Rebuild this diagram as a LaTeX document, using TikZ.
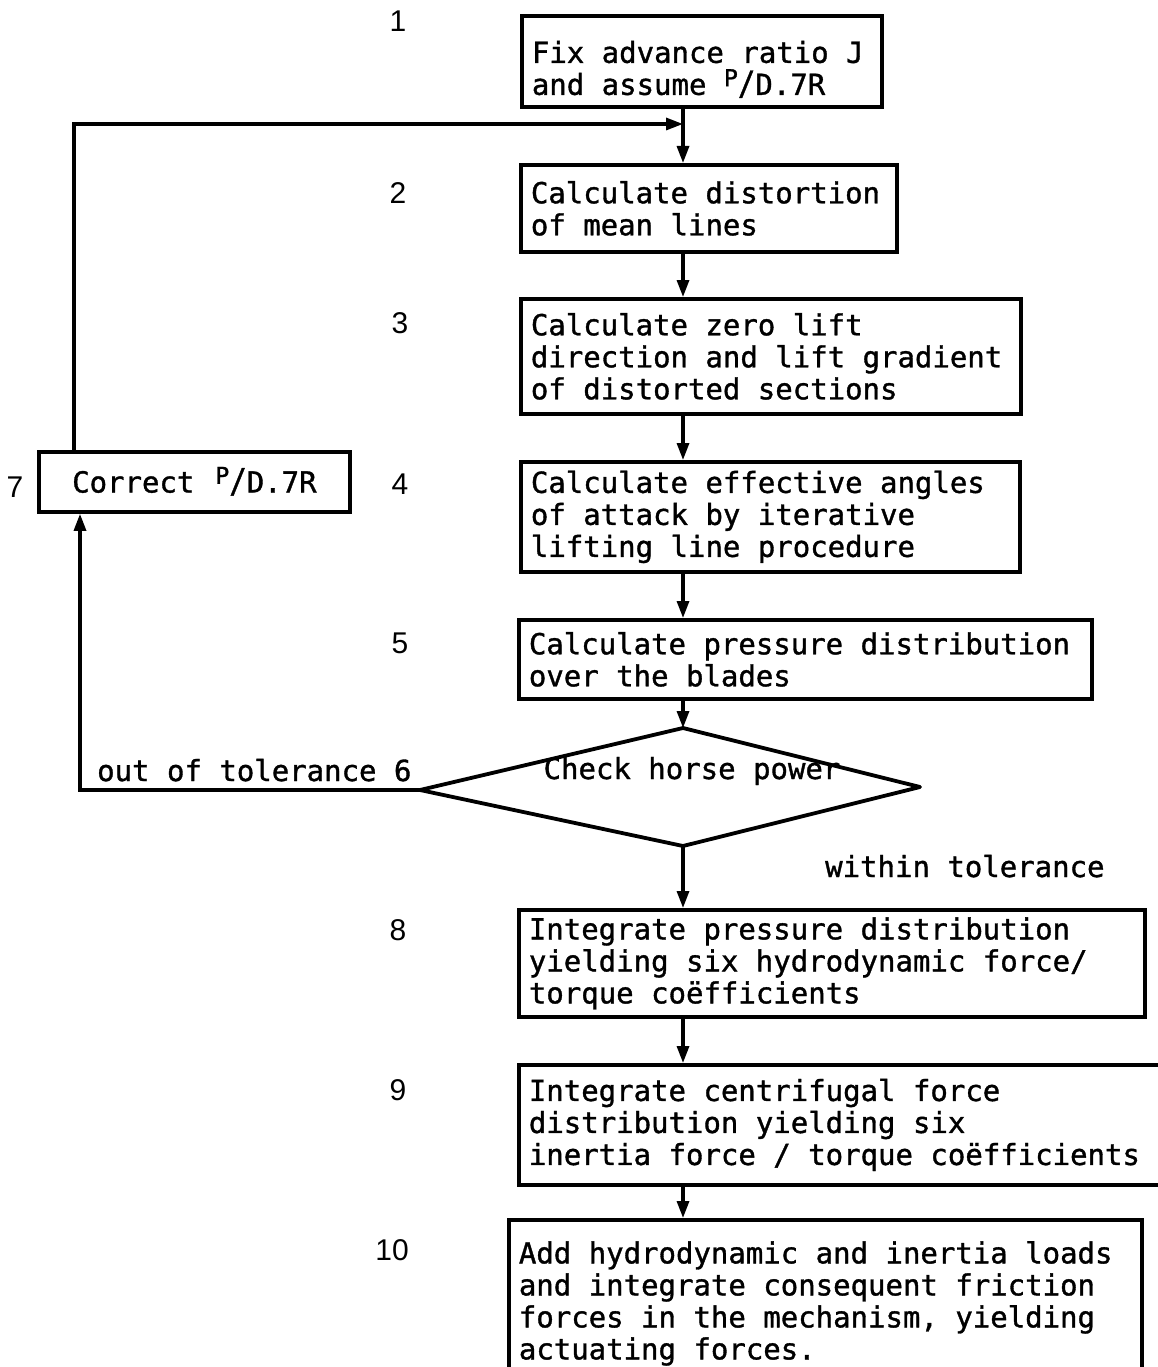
\documentclass[tikz,border=0pt]{standalone}
\usepackage{fontspec}
\setmainfont{DejaVu Sans Mono}[FakeBold=1.2]
\newfontfamily\numfont{Liberation Sans}
\usetikzlibrary{arrows.meta}
\newcommand{\pdr}{\smash{\raisebox{0.3em}{\scalebox{0.8}{P}}}\scalebox{1}[1.15]{/}D.7R}
\begin{document}
\begin{tikzpicture}[x=1pt,y=-1pt,
 box/.style={draw, line width=3.8pt, anchor=north west, align=left, inner xsep=10pt, inner ysep=0pt, font=\fontsize{29}{32}\selectfont,
   execute at begin node={\spaceskip=0pt\xspaceskip=0pt}},
 num/.style={font=\numfont\fontsize{30}{32}\selectfont, anchor=center},
 lbl/.style={font=\fontsize{29}{32}\selectfont, inner sep=0pt},
 arr/.style={line width=3.2pt, -{Triangle[length=17pt,width=12pt]}}]
\useasboundingbox (0,0) rectangle (1158,1367);
\fill[white] (0,0) rectangle (1158,1367);

\node[box, text width=340pt, minimum height=91pt] (b1) at (520,14) {\rule{0pt}{38pt}Fix advance ratio J\\and assume \pdr};
\node[box, text width=356pt, minimum height=87pt] (b2) at (519,163) {Calculate distortion\\of mean lines};
\node[box, text width=480pt, minimum height=115pt] (b3) at (519,297) {Calculate zero lift\\direction and lift gradient\\of distorted sections};
\node[box, text width=479pt, minimum height=110pt] (b4) at (519,460) {Calculate effective angles\\of attack by iterative\\lifting line procedure};
\node[box, text width=553pt, minimum height=79pt] (b5) at (517,618) {Calculate pressure distribution\\over the blades};
\node[box, text width=606pt, minimum height=107pt] (b8) at (517,908) {Integrate pressure distribution\\yielding six hydrodynamic force/\\torque coëfficients};
\node[box, text width=640pt, minimum height=120pt] (b9) at (517,1063) {Integrate centrifugal force\\distribution yielding six\\inertia force / torque coëfficients};
\node[box, text width=613pt, minimum height=167pt] (b10) at (507,1218) {Add hydrodynamic and inertia loads\\and integrate consequent friction\\forces in the mechanism, yielding\\actuating forces.};
\node[box, align=center, text width=291pt, minimum height=60pt] (b7) at (37,450) {Correct \pdr};

% diamond
\coordinate (dT) at (683,728);
\coordinate (dR) at (920,787);
\coordinate (dB) at (683,846);
\coordinate (dL) at (420,790);
\draw[line width=3.8pt, line join=round] (dT) -- (dR) -- (dB) -- (dL) -- cycle;
\node[lbl] (d6) at (692,771) {Check horse power};

% step numbers
\node[num] (n1) at (398,21) {1};
\node[num] (n2) at (398,193) {2};
\node[num] (n3) at (400,323) {3};
\node[num] (n4) at (400,484) {4};
\node[num] (n5) at (400,643) {5};
\node[num] (n7) at (15,487) {7};
\node[num] (n8) at (398,930) {8};
\node[num] (n9) at (398,1090) {9};
\node[num] (n10) at (392,1250) {10};

\node[lbl, anchor=base west] (lout) at (97,781) {out of tolerance 6};
\node[lbl, anchor=base west] (lin) at (825,877) {within tolerance};

% connectors
\coordinate (c) at (683,0);
\coordinate (j) at (683,124);
\coordinate (lt) at (74,0);
\coordinate (lb) at (80,0);
\draw[arr] (b1.south -| c) -- (b2.north -| c);
\draw[arr] (b2.south -| c) -- (b3.north -| c);
\draw[arr] (b3.south -| c) -- (b4.north -| c);
\draw[arr] (b4.south -| c) -- (b5.north -| c);
\draw[arr] (b5.south -| c) -- (dT);
\draw[arr] (dB) -- (b8.north -| c);
\draw[arr] (b8.south -| c) -- (b9.north -| c);
\draw[arr] (b9.south -| c) -- (b10.north -| c);
\draw[arr] (b7.north -| lt) |- (j);
\draw[arr] (dL) -| (b7.south -| lb);
\end{tikzpicture}
\end{document}
